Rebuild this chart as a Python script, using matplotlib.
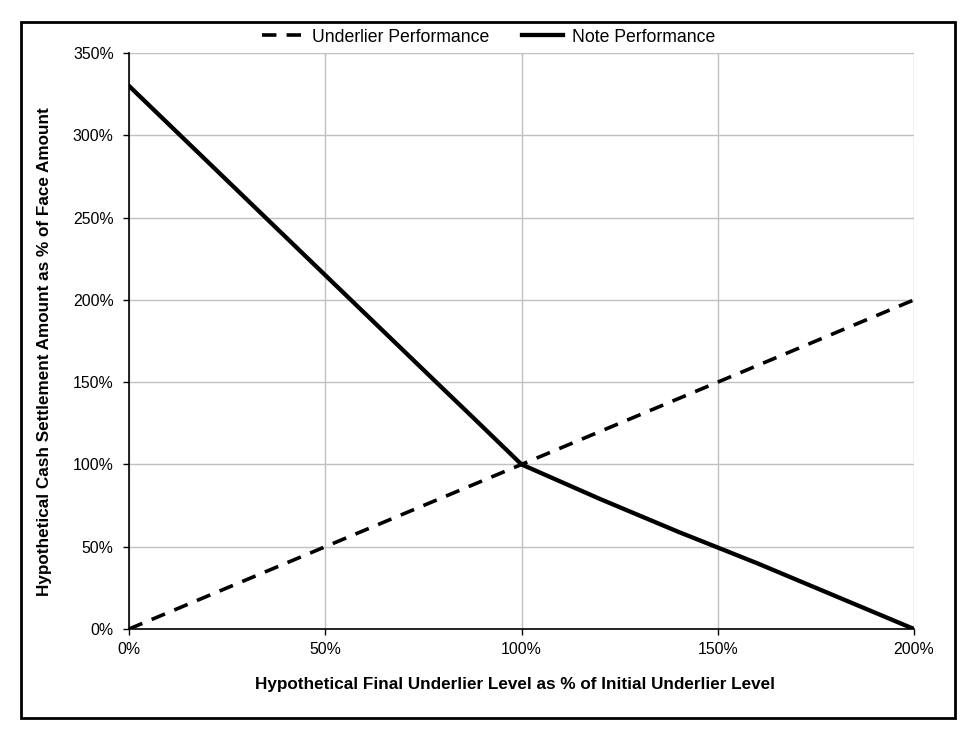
import matplotlib

matplotlib.use("Agg")
import matplotlib.pyplot as plt
from matplotlib.patches import Rectangle
from matplotlib.ticker import FuncFormatter

plt.rcParams["font.family"] = ["Liberation Sans", "DejaVu Sans"]

# underlier final level as % of initial
underlier_x = [0, 200]
underlier_y = [0, 200]

note_x = [0, 10, 20, 30, 40, 50, 60, 70, 80, 87, 100, 110, 120, 130, 140, 150, 160, 170, 180, 190, 200]
note_y = [330, 307, 284, 261, 238, 215, 192, 169, 146, 130, 100, 89.5, 79, 69, 59, 49.5, 40, 30, 20, 10, 0]

x_ticks = [0, 50, 100, 150, 200]
y_ticks = [0, 50, 100, 150, 200, 250, 300, 350]

fig = plt.figure(figsize=(9.75, 7.37), dpi=100)
ax = fig.add_axes([129 / 975, 1 - 629 / 737, (914 - 129) / 975, (629 - 53) / 737])

ax.plot(underlier_x, underlier_y, color="black", lw=2.6, ls=(0, (4, 2.8)),
        label="Underlier Performance", zorder=3)
ax.plot(note_x, note_y, color="black", lw=3.1, label="Note Performance",
        solid_joinstyle="miter", zorder=4)

ax.set_xlim(0, 200)
ax.set_ylim(0, 350)
ax.set_xticks(x_ticks)
ax.set_yticks(y_ticks)
pct = FuncFormatter(lambda v, _: f"{v:.0f}%")
ax.xaxis.set_major_formatter(pct)
ax.yaxis.set_major_formatter(pct)
ax.grid(True, color="#c0c0c0", lw=1)
ax.set_axisbelow(True)

for side in ("top", "right"):
    ax.spines[side].set_visible(False)
for side in ("left", "bottom"):
    ax.spines[side].set_color("black")
    ax.spines[side].set_linewidth(1.2)
ax.tick_params(direction="out", length=4.5, width=1, labelsize=11.4,
               colors="black")
ax.tick_params(axis="x", pad=4.5)
ax.tick_params(axis="y", pad=6.5)

ax.set_xlabel("Hypothetical Final Underlier Level as % of Initial Underlier Level",
              fontsize=12.3, fontweight="bold", va="center")
ax.set_ylabel("Hypothetical Cash Settlement Amount as % of Face Amount",
              fontsize=12.3, fontweight="bold", va="center")
ax.xaxis.set_label_coords(0.492, -0.0972)
ax.yaxis.set_label_coords(-0.108, 0.481)

ax.legend(loc="lower center", bbox_to_anchor=(0.458, 1.0007), ncol=2, frameon=False,
          fontsize=12.7, handlelength=2.3, handletextpad=0.5, columnspacing=1.9,
          borderaxespad=0)

fig.patches.append(Rectangle((21 / 975, 1 - 718 / 737), (955 - 21) / 975,
                             (718 - 22) / 737, transform=fig.transFigure,
                             fill=False, edgecolor="black", lw=2))

fig.savefig("out.png", dpi=100)
